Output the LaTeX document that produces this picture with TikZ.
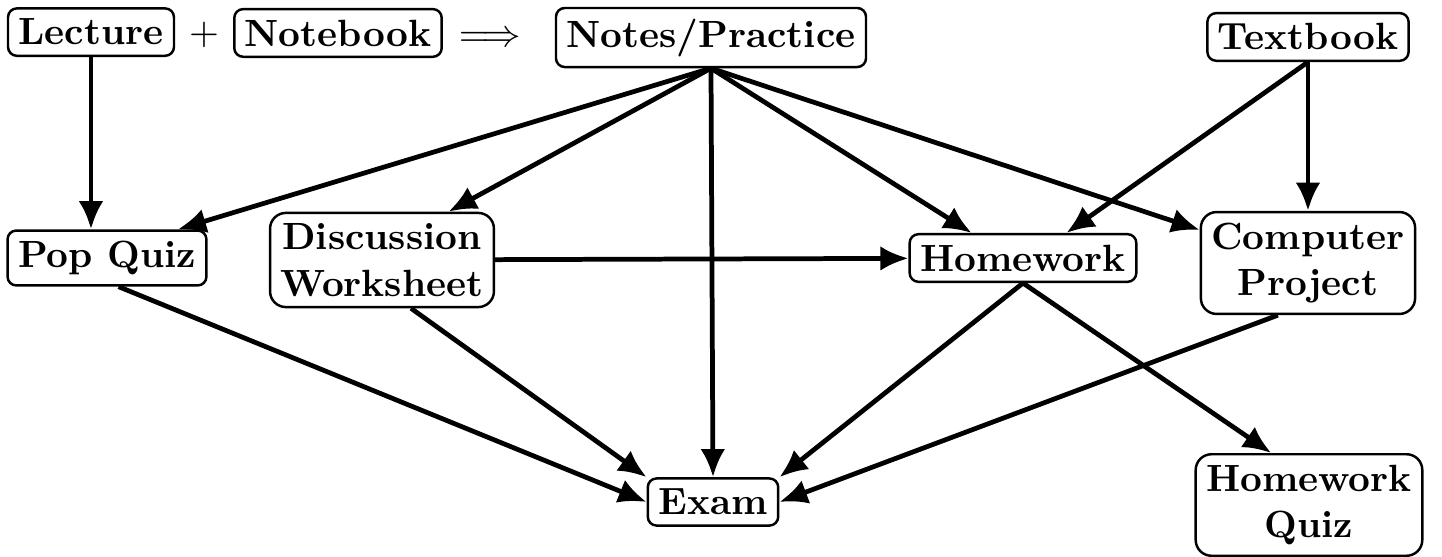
\documentclass[tikz,border=0pt]{standalone}
\usepackage{tikz}
\usetikzlibrary{arrows.meta,calc}

\begin{document}
\begin{tikzpicture}[
  every node/.style={font=\fontsize{10.8}{13.3}\selectfont\bfseries,align=center},
  nbox/.style={rounded corners=2.5pt,draw=black,line width=0.7pt,inner sep=3pt},
  tbox/.style={nbox,rounded corners=4.5pt},
  sym/.style={inner sep=0.5pt},
  arr/.style={-{Latex[length=8pt,width=7pt]},line width=1.35pt}
]
\useasboundingbox (0,0) rectangle (14.42,-5.57);
% top row
\node[nbox,anchor=base] (lecture) at (0.91,-0.45) {Lecture};
\node[sym,anchor=base] (plus) at (2.04,-0.45) {$+$};
\node[nbox,anchor=base] (notebook) at (3.38,-0.46) {Notebook};
\node[sym,anchor=base] (implies) at (4.90,-0.46) {$\Longrightarrow$};
\node[nbox,anchor=base] (notes) at (7.11,-0.47) {Notes/Practice};
\node[nbox,anchor=base] (textbook) at (13.08,-0.50) {Textbook};
% middle row
\node[nbox] (popquiz) at (1.07,-2.58) {Pop Quiz};
\node[tbox] (disc) at (3.82,-2.60) {Discussion\\Worksheet};
\node[nbox] (hw) at (10.23,-2.58) {Homework};
\node[tbox] (cp) at (13.08,-2.63) {Computer\\Project};
% bottom row
\node[nbox] (exam) at (7.13,-5.02) {Exam};
\node[tbox] (hwquiz) at (13.09,-5.05) {Homework\\Quiz};
\draw[arr] (lecture.south) -- (lecture.south |- popquiz.north);
\draw[arr] (notes.south) -- (popquiz.22);
\draw[arr] (notes.south) -- (disc.36);
\draw[arr] (notes.south) -- (exam.north);
\draw[arr] (notes.south) -- (hw.154);
\draw[arr] (notes.south) -- (cp.163);
\draw[arr] (textbook.south) -- (hw.30);
\draw[arr] (textbook.south) -- (cp.north);
\draw[arr] (disc) -- (hw);
\draw[arr] (popquiz.-68) -- (exam.west);
\draw[arr] (disc.-59) -- (exam.north west);
\draw[arr] (hw.south) -- (exam.north east);
\draw[arr] (cp.-120) -- (exam.east);
\draw[arr] (hw.south) -- (hwquiz.126);
\end{tikzpicture}
\end{document}
